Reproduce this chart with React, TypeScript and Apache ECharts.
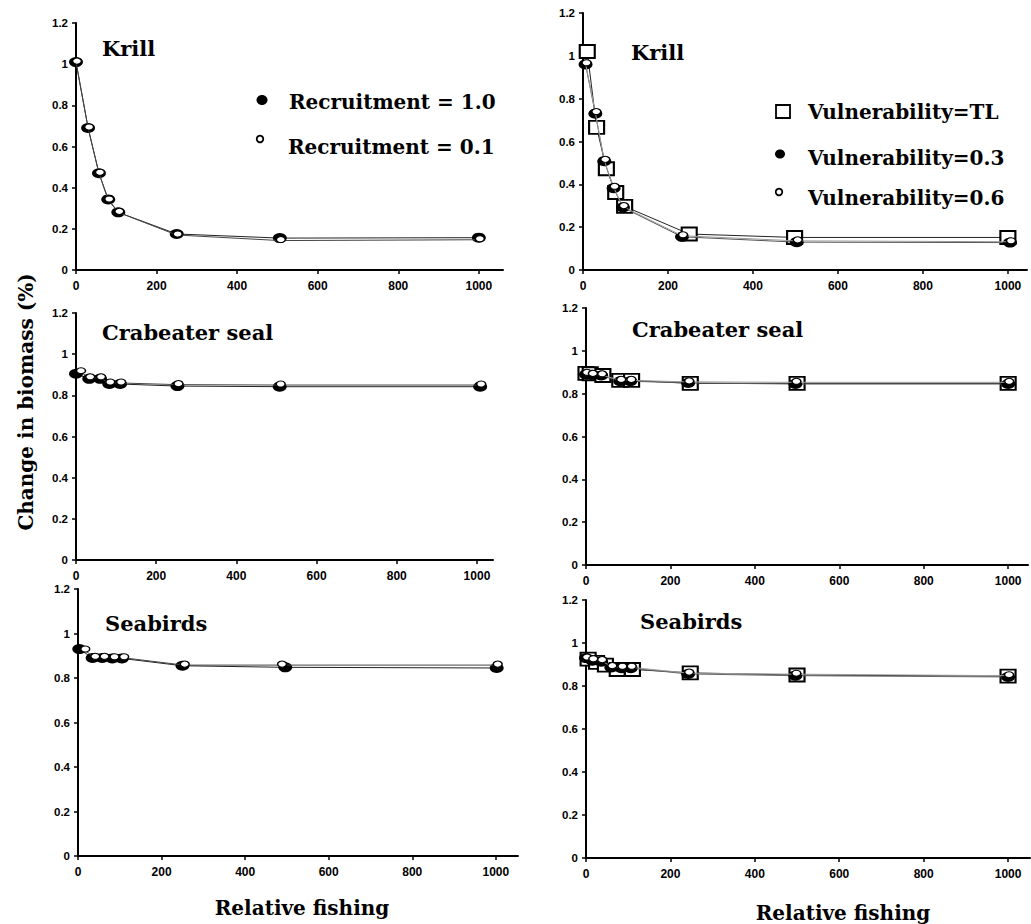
import React, { useEffect, useRef } from "react";
import * as echarts from "echarts";

// ---------- data ----------
const xTicks = [0, 200, 400, 600, 800, 1000];

// Left column: Recruitment scenarios
const krillRecA_x = [0, 30, 57, 80, 105, 250, 506, 1000];
const krillRec10 = [1.01, 0.69, 0.47, 0.343, 0.28, 0.175, 0.155, 0.157];
const krillRecB_x = [0, 30, 57, 80, 105, 250, 506, 1000];
const krillRec01 = [1.01, 0.69, 0.47, 0.34, 0.28, 0.17, 0.143, 0.147];

const sealRecA_x = [0, 33, 60, 83, 110, 253, 508, 1008];
const sealRec10 = [0.905, 0.88, 0.88, 0.855, 0.855, 0.845, 0.842, 0.842];
const sealRecB_x = [10, 33, 60, 83, 110, 253, 508, 1008];
const sealRec01 = [0.915, 0.885, 0.885, 0.86, 0.86, 0.852, 0.85, 0.85];

const birdRecA_x = [3, 35, 58, 82, 105, 250, 496, 1002];
const birdRec10 = [0.93, 0.89, 0.89, 0.888, 0.888, 0.855, 0.848, 0.845];
const birdRecB_x = [15, 39, 61, 85, 108, 253, 486, 1002];
const birdRec01 = [0.926, 0.893, 0.893, 0.891, 0.891, 0.858, 0.858, 0.858];

// Right column: Vulnerability scenarios
const krillTL_x = [10, 32, 55, 77, 98, 250, 498, 1000];
const krillVulTL = [1.02, 0.666, 0.473, 0.362, 0.297, 0.168, 0.152, 0.152];
const krillV_x = [6, 29, 50, 72, 94, 233, 503, 1005];
const krillVul03 = [0.96, 0.73, 0.508, 0.382, 0.292, 0.155, 0.13, 0.128];
const krillVul06 = [0.963, 0.735, 0.512, 0.386, 0.296, 0.16, 0.136, 0.132];

const sealTL_x = [0, 10, 40, 80, 108, 247, 500, 1000];
const sealVulTL = [0.895, 0.893, 0.885, 0.862, 0.862, 0.848, 0.848, 0.848];
const sealV_x = [0, 14, 36, 81, 105, 242, 496, 1000];
const sealVul03 = [0.89, 0.888, 0.885, 0.858, 0.858, 0.85, 0.845, 0.845];
const sealVul06 = [0.895, 0.89, 0.888, 0.862, 0.862, 0.855, 0.853, 0.853];

const birdTL_x = [5, 25, 46, 74, 110, 247, 500, 1000];
const birdVulTL = [0.925, 0.91, 0.897, 0.877, 0.877, 0.861, 0.851, 0.846];
const birdV_x = [0, 15, 36, 60, 84, 106, 242, 496, 1000];
const birdVul03 = [0.93, 0.918, 0.913, 0.886, 0.883, 0.883, 0.856, 0.848, 0.842];
const birdVul06 = [0.93, 0.922, 0.918, 0.89, 0.887, 0.887, 0.86, 0.855, 0.848];

const panelTitles = ["Krill", "Krill", "Crabeater seal", "Crabeater seal", "Seabirds", "Seabirds"];
const recNames = ["Recruitment = 1.0", "Recruitment = 0.1"];
const vulNames = ["Vulnerability=TL", "Vulnerability=0.3", "Vulnerability=0.6"];
const yTitle = "Change in biomass (%)";
const xTitle = "Relative fishing";

// ---------- layout ----------
const panels = [
  { left: 76, top: 23, height: 247, width: 427, xmax: 1060 },
  { left: 583, top: 13, height: 257, width: 444, xmax: 1045 },
  { left: 76, top: 313, height: 247, width: 417, xmax: 1040 },
  { left: 586, top: 308, height: 257, width: 442, xmax: 1047 },
  { left: 78, top: 589, height: 267, width: 440, xmax: 1053 },
  { left: 586, top: 600, height: 258, width: 444, xmax: 1052 },
];
const titlePos = [
  [102, 48], [631, 52], [102, 332], [632, 329], [105, 623], [640, 621],
];

const zip = (xs: number[], ys: number[]) => xs.map((x, i) => [x, ys[i]]);

const SERIF = '"DejaVu Serif", serif';
const SANS = '"Liberation Sans", Arial, sans-serif';

function filledSeries(name: string, idx: number, xs: number[], ys: number[], lineColor: string) {
  return {
    name, type: "line", xAxisIndex: idx, yAxisIndex: idx,
    data: zip(xs, ys),
    symbol: "circle", symbolSize: [14, 10],
    itemStyle: { color: "#000" },
    lineStyle: { color: lineColor, width: 1 },
    z: 3,
  };
}
function openSeries(name: string, idx: number, xs: number[], ys: number[], lineColor: string) {
  return {
    name, type: "line", xAxisIndex: idx, yAxisIndex: idx,
    data: zip(xs, ys),
    symbol: "circle", symbolSize: [9, 6], symbolOffset: [1, -1],
    itemStyle: { color: "#fff", borderColor: "#000", borderWidth: 1.2 },
    lineStyle: { color: lineColor, width: 1 },
    z: 4,
  };
}
function squareSeries(name: string, idx: number, xs: number[], ys: number[]) {
  return {
    name, type: "line", xAxisIndex: idx, yAxisIndex: idx,
    data: zip(xs, ys),
    symbol: "rect", symbolSize: [15, 13],
    itemStyle: { color: "#fff", borderColor: "#000", borderWidth: 2 },
    lineStyle: { color: "#222", width: 1 },
    z: 2,
  };
}

export default function App() {
  const ref = useRef<HTMLDivElement>(null);
  useEffect(() => {
    if (!ref.current) return;
    const chart = echarts.init(ref.current, null, { renderer: "svg" });

    const grid = panels.map((p) => ({ left: p.left, top: p.top, width: p.width, height: p.height }));
    const xAxis = panels.map((p, i) => ({
      type: "value", gridIndex: i, min: 0, max: p.xmax, interval: 200,
      splitLine: { show: false },
      axisLine: { show: true, onZero: false, lineStyle: { color: "#000", width: 2 } },
      axisTick: { show: true, length: 4, customValues: xTicks, lineStyle: { color: "#000", width: 1.5 } },
      axisLabel: {
        customValues: xTicks, margin: 10, color: "#000", fontFamily: SANS, fontWeight: "bold", fontSize: 12,
        formatter: (v: number) => String(v),
      },
    }));
    const yAxis = panels.map((p, i) => ({
      type: "value", gridIndex: i, min: 0, max: 1.2, interval: 0.2,
      splitLine: { show: false },
      axisLine: { show: true, onZero: false, lineStyle: { color: "#000", width: 2 } },
      axisTick: { show: true, length: 4, lineStyle: { color: "#000", width: 1.5 } },
      axisLabel: { margin: 8, color: "#000", fontFamily: SANS, fontWeight: "bold", fontSize: 11.5 },
    }));

    const series: any[] = [
      // left column
      filledSeries(recNames[0], 0, krillRecA_x, krillRec10, "#222"),
      openSeries(recNames[1], 0, krillRecB_x, krillRec01, "#444"),
      filledSeries(recNames[0], 2, sealRecA_x, sealRec10, "#222"),
      openSeries(recNames[1], 2, sealRecB_x, sealRec01, "#444"),
      filledSeries(recNames[0], 4, birdRecA_x, birdRec10, "#222"),
      openSeries(recNames[1], 4, birdRecB_x, birdRec01, "#444"),
      // right column
      squareSeries(vulNames[0], 1, krillTL_x, krillVulTL),
      filledSeries(vulNames[1], 1, krillV_x, krillVul03, "#555"),
      openSeries(vulNames[2], 1, krillV_x, krillVul06, "#999"),
      squareSeries(vulNames[0], 3, sealTL_x, sealVulTL),
      filledSeries(vulNames[1], 3, sealV_x, sealVul03, "#555"),
      openSeries(vulNames[2], 3, sealV_x, sealVul06, "#999"),
      squareSeries(vulNames[0], 5, birdTL_x, birdVulTL),
      filledSeries(vulNames[1], 5, birdV_x, birdVul03, "#666"),
      openSeries(vulNames[2], 5, birdV_x, birdVul06, "#999"),
    ];

    const titleFont = `bold 21px ${SERIF}`;
    const legendFont = `bold 20px ${SERIF}`;
    const graphic: any[] = [
      ...panelTitles.map((t, i) => ({
        type: "text", x: titlePos[i][0], y: titlePos[i][1],
        style: { text: t, font: titleFont, fill: "#000", align: "left", verticalAlign: "middle" },
      })),
      // left legend
      { type: "ellipse", shape: { cx: 262, cy: 100, rx: 5.5, ry: 5 }, style: { fill: "#000" } },
      { type: "text", x: 289, y: 102, style: { text: recNames[0], font: legendFont, fill: "#000", verticalAlign: "middle" } },
      { type: "circle", shape: { cx: 260, cy: 139, r: 3.3 }, style: { fill: "#fff", stroke: "#000", lineWidth: 1.8 } },
      { type: "text", x: 288, y: 147, style: { text: recNames[1], font: legendFont, fill: "#000", verticalAlign: "middle" } },
      // right legend
      { type: "rect", shape: { x: 776, y: 105, width: 14, height: 13 }, style: { fill: "#fff", stroke: "#000", lineWidth: 1.8 } },
      { type: "text", x: 808, y: 112, style: { text: vulNames[0], font: legendFont, fill: "#000", verticalAlign: "middle" } },
      { type: "ellipse", shape: { cx: 780, cy: 154, rx: 5, ry: 4.5 }, style: { fill: "#000" } },
      { type: "text", x: 808, y: 158, style: { text: vulNames[1], font: legendFont, fill: "#000", verticalAlign: "middle" } },
      { type: "circle", shape: { cx: 779, cy: 192, r: 3.3 }, style: { fill: "#fff", stroke: "#000", lineWidth: 1.8 } },
      { type: "text", x: 808, y: 198, style: { text: vulNames[2], font: legendFont, fill: "#000", verticalAlign: "middle" } },
      // axis titles
      {
        type: "text", x: 26, y: 402, rotation: Math.PI / 2,
        style: { text: yTitle, font: legendFont, fill: "#000", align: "center", verticalAlign: "middle" },
      },
      { type: "text", x: 302, y: 908, style: { text: xTitle, font: legendFont, fill: "#000", align: "center", verticalAlign: "middle" } },
      { type: "text", x: 843, y: 913, style: { text: xTitle, font: legendFont, fill: "#000", align: "center", verticalAlign: "middle" } },
    ];

    chart.setOption({
      animation: false,
      backgroundColor: "#fff",
      grid, xAxis, yAxis, series, graphic,
    });
    return () => chart.dispose();
  }, []);

  return (
    <div
      ref={ref}
      style={{ position: "fixed", left: 0, top: 0, width: 1031, height: 924, background: "#fff" }}
    />
  );
}
